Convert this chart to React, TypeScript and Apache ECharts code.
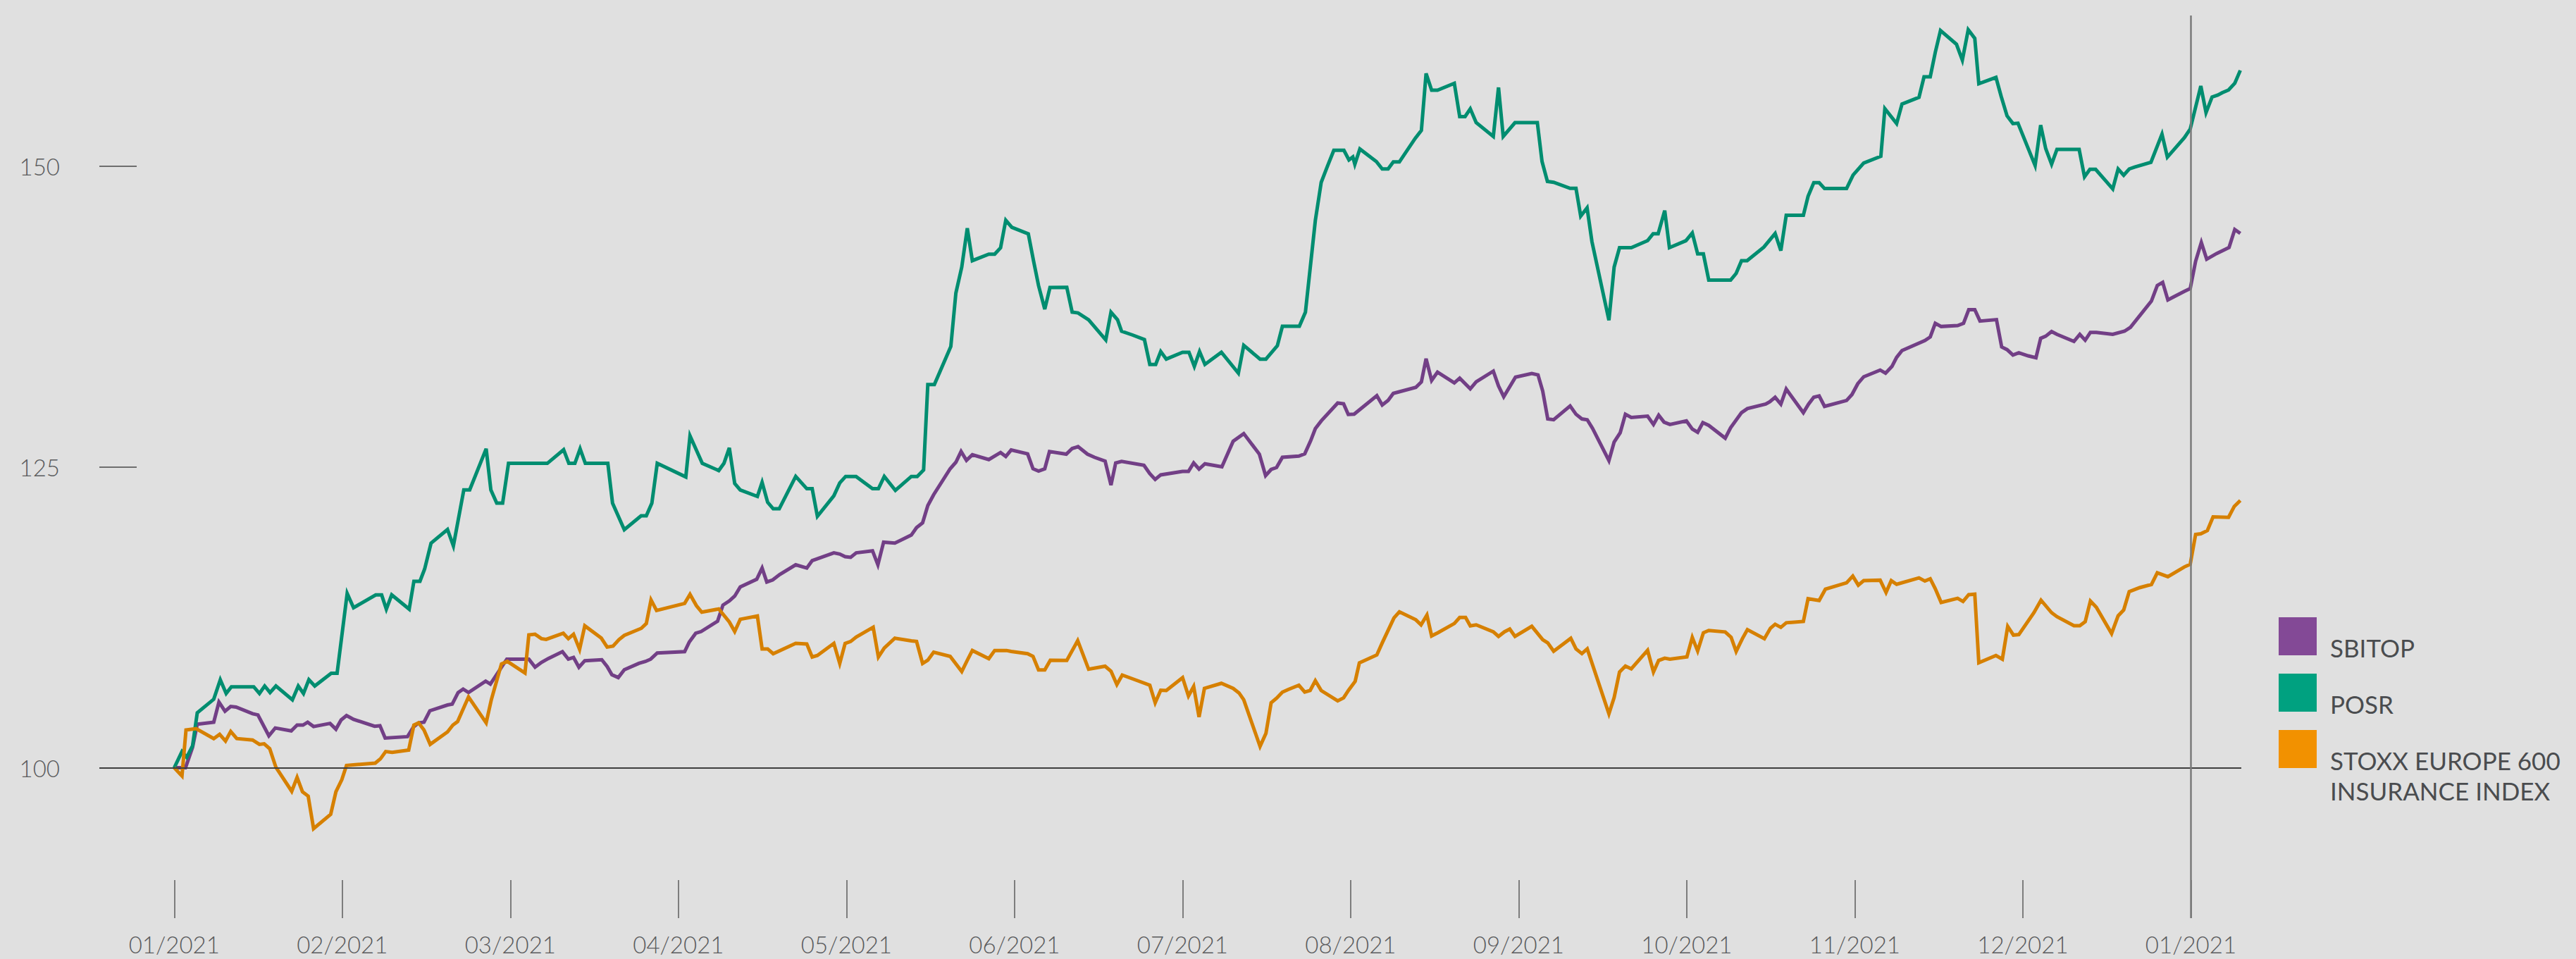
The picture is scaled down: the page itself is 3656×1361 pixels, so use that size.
import React, { useEffect, useRef } from "react";
import * as echarts from "echarts";

// x = position in months from 01/2021 (0) to 01/2022 (12); y = indexed value (start = 100)
const MONTH_LABELS = [
  "01/2021", "02/2021", "03/2021", "04/2021", "05/2021", "06/2021", "07/2021",
  "08/2021", "09/2021", "10/2021", "11/2021", "12/2021", "01/2021",
];
const MONTH_TICKS = [0, 1, 2, 3, 4, 5, 6, 7, 8, 9, 10, 11, 12];
const Y_LABELS = [100, 125, 150];
const Y_TICKS = [125, 150];
const BASE_LINE = 100;
const YEAR_END_LINE = 12;

const SERIES_NAMES = ["SBITOP", "POSR", "STOXX EUROPE 600\nINSURANCE INDEX"];
const LEGEND_COLORS = ["#834996", "#00a180", "#f29100"];
const LINE_COLORS = ["#723f86", "#008d70", "#d68000"];

const SBITOP_DATA: [number, number][] = [
  [0, 100], [0.067, 100.0], [0.109, 101.7], [0.137, 103.61], [0.235, 103.78], [0.266, 105.45], [0.302, 104.69], [0.336, 105.09], [0.368, 105.04], [0.466, 104.49], [0.498, 104.38], [0.563, 102.65], [0.601, 103.3], [0.696, 103.06], [0.731, 103.54], [0.766, 103.54], [0.794, 103.78], [0.829, 103.42], [0.927, 103.68], [0.962, 103.2], [0.993, 103.97], [1.025, 104.33], [1.067, 104.02], [1.192, 103.44], [1.224, 103.49], [1.255, 102.46], [1.388, 102.58], [1.423, 103.37], [1.454, 103.73], [1.486, 103.78], [1.521, 104.73], [1.626, 105.21], [1.654, 105.28], [1.689, 106.24], [1.719, 106.53],
  [1.751, 106.25], [1.853, 107.19], [1.881, 106.95], [1.979, 109.02], [2.11, 109.02], [2.147, 108.35], [2.185, 108.75], [2.227, 109.08], [2.31, 109.64], [2.345, 109.02], [2.376, 109.16], [2.408, 108.35], [2.443, 108.89], [2.544, 108.97], [2.576, 108.4], [2.604, 107.73], [2.642, 107.49], [2.678, 108.14], [2.765, 108.67], [2.804, 108.83], [2.835, 109.02], [2.874, 109.53], [3.037, 109.64], [3.065, 110.45], [3.103, 111.17], [3.135, 111.31], [3.233, 112.17], [3.265, 113.51], [3.303, 113.86], [3.335, 114.26], [3.368, 115.02], [3.466, 115.66],
  [3.498, 116.59], [3.526, 115.43], [3.561, 115.6], [3.603, 116.05], [3.698, 116.86], [3.764, 116.59], [3.796, 117.21], [3.925, 117.85], [3.96, 117.75], [3.992, 117.53], [4.025, 117.48], [4.058, 117.85], [4.155, 118.02], [4.187, 116.86], [4.221, 118.74], [4.288, 118.66], [4.386, 119.33], [4.417, 119.95], [4.453, 120.35], [4.484, 121.78], [4.519, 122.69], [4.617, 124.84], [4.651, 125.38], [4.682, 126.27], [4.714, 125.54], [4.749, 126.0], [4.847, 125.6], [4.917, 126.19], [4.948, 125.86], [4.98, 126.4], [5.078, 126.08], [5.11, 124.84], [5.143, 124.65], [5.18, 124.84], [5.208, 126.27],
  [5.308, 126.05], [5.343, 126.52], [5.378, 126.68], [5.434, 126.05], [5.476, 125.79], [5.539, 125.48], [5.574, 123.48], [5.602, 125.32], [5.637, 125.45], [5.77, 125.13], [5.805, 124.43], [5.837, 123.95], [5.87, 124.33], [6.0, 124.62], [6.035, 124.62], [6.066, 125.32], [6.098, 124.81], [6.133, 125.25], [6.234, 125.0], [6.301, 127.13], [6.364, 127.76], [6.457, 126.05], [6.494, 124.27], [6.527, 124.78], [6.559, 124.94], [6.594, 125.79], [6.692, 125.89], [6.727, 126.08], [6.762, 127.16], [6.79, 128.17], [6.825, 128.81], [6.923, 130.3], [6.958, 130.24], [6.986, 129.35],
  [7.021, 129.38], [7.048, 129.68], [7.156, 130.91], [7.188, 130.14], [7.223, 130.52], [7.254, 131.1], [7.388, 131.6], [7.421, 132.06], [7.449, 133.98], [7.482, 132.18], [7.517, 132.87], [7.617, 131.98], [7.649, 132.37], [7.712, 131.48], [7.747, 132.06], [7.849, 132.95], [7.88, 131.71], [7.911, 130.83], [7.981, 132.45], [8.078, 132.75], [8.115, 132.64], [8.143, 131.29], [8.173, 128.98], [8.208, 128.91], [8.306, 130.06], [8.341, 129.37], [8.376, 128.98], [8.408, 128.91], [8.439, 128.21], [8.537, 125.52], [8.568, 127.06], [8.604, 127.83], [8.635, 129.37], [8.67, 129.1], [8.767, 129.21], [8.802, 128.52], [8.833, 129.29], [8.865, 128.71], [8.9, 128.52],
  [8.998, 128.82], [9.033, 128.14], [9.065, 127.87], [9.096, 128.67], [9.131, 128.44], [9.229, 127.38], [9.261, 128.25], [9.326, 129.5], [9.361, 129.84], [9.47, 130.21], [9.494, 130.4], [9.526, 130.78], [9.56, 130.21], [9.592, 131.46], [9.694, 129.5], [9.725, 130.21], [9.756, 130.78], [9.788, 130.89], [9.82, 130.02], [9.951, 130.51], [9.983, 131.0], [10.018, 131.91], [10.053, 132.48], [10.151, 133.04], [10.183, 132.78], [10.221, 133.34], [10.249, 134.1], [10.281, 134.66], [10.417, 135.49], [10.449, 135.79], [10.479, 136.92], [10.514, 136.66], [10.612, 136.74], [10.647, 136.92], [10.678, 138.06], [10.714, 138.06], [10.745, 137.11], [10.843, 137.23], [10.874, 134.96], [10.906, 134.74], [10.941, 134.29],
  [10.976, 134.48], [11.032, 134.22], [11.078, 134.06], [11.106, 135.68], [11.136, 135.85], [11.171, 136.24], [11.203, 136.01], [11.304, 135.42], [11.339, 136.01], [11.371, 135.52], [11.402, 136.17], [11.437, 136.17], [11.535, 136.01], [11.605, 136.27], [11.64, 136.59], [11.765, 138.77], [11.8, 140.07], [11.832, 140.33], [11.863, 138.87], [11.894, 139.1], [11.961, 139.58], [11.996, 139.81], [12.028, 142.08], [12.062, 143.64], [12.094, 142.25], [12.154, 142.73], [12.227, 143.22], [12.261, 144.72], [12.294, 144.39],
];

const POSR_DATA: [number, number][] = [
  [0, 100], [0.046, 101.34], [0.074, 100.86], [0.109, 101.82], [0.137, 104.57], [0.235, 105.69], [0.274, 107.31], [0.309, 106.17], [0.34, 106.72], [0.473, 106.72], [0.507, 106.17], [0.538, 106.79], [0.57, 106.24], [0.605, 106.79], [0.703, 105.64], [0.738, 106.79], [0.769, 106.17], [0.801, 107.31], [0.836, 106.79], [0.934, 107.84], [0.969, 107.84], [1.029, 114.48], [1.067, 113.29], [1.199, 114.36], [1.234, 114.36], [1.262, 113.17], [1.294, 114.36], [1.398, 113.17], [1.426, 115.49], [1.462, 115.49], [1.49, 116.51], [1.528, 118.66], [1.626, 119.79], [1.661, 118.43], [1.723, 123.08],
  [1.758, 123.08], [1.856, 126.5], [1.884, 123.08], [1.919, 121.98], [1.954, 121.98], [1.989, 125.29], [2.22, 125.29], [2.317, 126.42], [2.348, 125.29], [2.384, 125.29], [2.415, 126.5], [2.446, 125.29], [2.58, 125.29], [2.608, 121.98], [2.678, 119.78], [2.778, 120.93], [2.809, 120.93], [2.842, 121.98], [2.874, 125.29], [3.044, 124.16], [3.069, 127.57], [3.142, 125.29], [3.24, 124.69], [3.271, 125.29], [3.303, 126.58], [3.335, 123.62], [3.368, 123.08], [3.47, 122.54],
  [3.498, 123.71], [3.531, 122.05], [3.564, 121.51], [3.6, 121.51], [3.698, 124.2], [3.764, 123.18], [3.796, 123.18], [3.827, 120.89], [3.925, 122.59], [3.96, 123.66], [3.995, 124.2], [4.057, 124.2], [4.155, 123.18], [4.19, 123.18], [4.225, 124.2], [4.291, 123.04], [4.386, 124.2], [4.421, 124.2], [4.459, 124.74], [4.484, 131.83], [4.523, 131.83], [4.621, 135.0], [4.651, 139.44], [4.686, 141.59], [4.719, 144.82], [4.749, 142.13], [4.847, 142.67], [4.882, 142.67], [4.917, 143.2], [4.948, 145.49], [4.984, 144.9], [5.082, 144.36], [5.113, 142.13], [5.143, 140.06], [5.18, 138.1], [5.211, 139.9],
  [5.311, 139.92], [5.343, 137.85], [5.378, 137.79], [5.441, 137.22], [5.543, 135.54], [5.574, 137.85], [5.613, 137.22], [5.637, 136.27], [5.703, 135.95], [5.773, 135.57], [5.805, 133.51], [5.84, 133.51], [5.87, 134.58], [5.903, 133.95], [6.0, 134.52], [6.038, 134.52], [6.07, 133.35], [6.101, 134.58], [6.133, 133.51], [6.231, 134.52], [6.332, 132.78], [6.364, 135.09], [6.461, 133.95], [6.496, 133.95], [6.564, 135.06], [6.594, 136.68], [6.695, 136.68], [6.731, 137.85], [6.79, 145.47], [6.825, 148.64], [6.86, 149.9], [6.9, 151.3], [6.96, 151.3], [6.99, 150.5],
  [7.013, 150.75], [7.025, 150.14], [7.055, 151.41], [7.153, 150.37], [7.188, 149.75], [7.223, 149.75], [7.254, 150.33], [7.29, 150.33], [7.384, 152.29], [7.421, 152.95], [7.449, 157.68], [7.482, 156.29], [7.517, 156.29], [7.617, 156.87], [7.649, 154.1], [7.681, 154.1], [7.712, 154.75], [7.747, 153.6], [7.849, 152.45], [7.88, 156.52], [7.908, 152.45], [7.978, 153.6], [8.111, 153.6], [8.139, 150.37], [8.171, 148.71], [8.208, 148.64], [8.306, 148.14], [8.341, 148.14], [8.369, 145.83], [8.407, 146.52], [8.436, 143.71], [8.537, 137.18], [8.568, 141.6], [8.6, 143.21], [8.67, 143.21], [8.767, 143.79], [8.8, 144.37], [8.83, 144.37], [8.869, 146.29], [8.897, 143.21],
  [8.995, 143.79], [9.033, 144.43], [9.065, 142.69], [9.099, 142.69], [9.131, 140.51], [9.261, 140.51], [9.294, 141.07], [9.326, 142.13], [9.359, 142.13], [9.459, 143.26], [9.526, 144.39], [9.56, 142.96], [9.592, 145.9], [9.694, 145.9], [9.722, 147.48], [9.756, 148.61], [9.788, 148.61], [9.82, 148.12], [9.951, 148.12], [9.99, 149.25], [10.053, 150.24], [10.155, 150.8], [10.179, 154.76], [10.249, 153.52], [10.281, 155.14], [10.382, 155.7], [10.412, 157.4], [10.449, 157.4], [10.479, 159.44], [10.51, 161.25], [10.605, 160.11], [10.64, 158.79], [10.675, 161.32], [10.714, 160.6], [10.738, 156.83], [10.84, 157.36], [10.871, 155.78], [10.906, 154.16], [10.941, 153.52],
  [10.971, 153.55], [11.073, 150.04], [11.106, 153.39], [11.136, 151.44], [11.171, 150.14], [11.203, 151.38], [11.335, 151.38], [11.367, 149.1], [11.399, 149.72], [11.433, 149.72], [11.535, 148.09], [11.567, 149.75], [11.6, 149.23], [11.633, 149.75], [11.665, 149.91], [11.762, 150.3], [11.828, 152.64], [11.86, 150.73], [11.961, 152.35], [11.996, 153.07], [12.059, 156.64], [12.09, 154.43], [12.126, 155.73], [12.16, 155.89], [12.187, 156.09], [12.224, 156.31], [12.261, 156.87], [12.294, 157.94],
];

const STOXX_DATA: [number, number][] = [
  [0, 100], [0.046, 99.31], [0.07, 103.13], [0.13, 103.25], [0.235, 102.42], [0.27, 102.77], [0.305, 102.22], [0.336, 103.01], [0.372, 102.42], [0.466, 102.3], [0.507, 101.94], [0.535, 101.99], [0.568, 101.58], [0.605, 100.03], [0.699, 98.04], [0.731, 99.19], [0.763, 98.0], [0.797, 97.64], [0.829, 94.94], [0.931, 96.13], [0.962, 98.0], [0.997, 99.0], [1.025, 100.19], [1.196, 100.38], [1.227, 100.74], [1.258, 101.34], [1.297, 101.27], [1.395, 101.46], [1.426, 103.54], [1.454, 103.73], [1.486, 103.13], [1.523, 101.94], [1.626, 102.97], [1.658, 103.54], [1.686, 103.83],
  [1.751, 105.88], [1.856, 103.73], [1.887, 105.66], [1.947, 108.62], [1.982, 108.83], [2.087, 107.87], [2.11, 111.04], [2.147, 111.09], [2.185, 110.72], [2.213, 110.66], [2.315, 111.17], [2.345, 110.72], [2.376, 111.09], [2.412, 109.83], [2.443, 111.79], [2.541, 110.77], [2.576, 110.02], [2.611, 110.1], [2.646, 110.64], [2.678, 110.99], [2.779, 111.58], [2.809, 111.98], [2.837, 113.94], [2.87, 113.06], [3.037, 113.65], [3.069, 114.4], [3.107, 113.46], [3.139, 112.92], [3.24, 113.19], [3.303, 112.11], [3.335, 111.31], [3.368, 112.33], [3.47, 112.6],
  [3.498, 109.87], [3.531, 109.87], [3.564, 109.47], [3.698, 110.33], [3.764, 110.28], [3.796, 109.2], [3.827, 109.33], [3.925, 110.33], [3.96, 108.66], [3.992, 110.33], [4.025, 110.49], [4.058, 110.86], [4.159, 111.67], [4.19, 109.2], [4.225, 109.95], [4.288, 110.76], [4.386, 110.54], [4.417, 110.49], [4.453, 108.66], [4.484, 108.93], [4.519, 109.6], [4.617, 109.25], [4.686, 107.99], [4.719, 108.93], [4.749, 109.74], [4.847, 109.06], [4.882, 109.74], [4.952, 109.74], [4.98, 109.66], [5.078, 109.47], [5.11, 109.25], [5.143, 108.12], [5.18, 108.12], [5.213, 108.93],
  [5.311, 108.91], [5.376, 110.56], [5.441, 108.18], [5.539, 108.43], [5.574, 108.02], [5.609, 106.91], [5.641, 107.7], [5.721, 107.29], [5.805, 106.85], [5.837, 105.39], [5.87, 106.44], [5.903, 106.41], [6.0, 107.48], [6.035, 105.96], [6.066, 106.75], [6.098, 104.21], [6.13, 106.59], [6.231, 107.01], [6.301, 106.59], [6.336, 106.21], [6.364, 105.64], [6.461, 101.77], [6.496, 102.85], [6.527, 105.39], [6.559, 105.77], [6.594, 106.28], [6.629, 106.5], [6.692, 106.85], [6.727, 106.28], [6.759, 106.41], [6.79, 107.23], [6.825, 106.41], [6.923, 105.55], [6.958, 105.8], [6.988, 106.44],
  [7.027, 107.18], [7.052, 108.71], [7.156, 109.37], [7.188, 110.37], [7.258, 112.45], [7.29, 112.95], [7.388, 112.29], [7.419, 111.87], [7.454, 112.68], [7.482, 110.95], [7.519, 111.21], [7.617, 111.98], [7.649, 112.48], [7.684, 112.48], [7.712, 111.79], [7.747, 111.87], [7.849, 111.29], [7.88, 110.91], [7.915, 111.29], [7.947, 111.52], [7.978, 110.91], [8.078, 111.75], [8.143, 110.64], [8.173, 110.37], [8.208, 109.68], [8.31, 110.75], [8.341, 109.87], [8.376, 109.48], [8.408, 109.87], [8.537, 104.48], [8.568, 105.83], [8.6, 107.95], [8.635, 108.45], [8.67, 108.21], [8.767, 109.75], [8.802, 107.95], [8.833, 108.91], [8.869, 109.1], [8.9, 109.02],
  [9.001, 109.21], [9.033, 110.83], [9.065, 109.7], [9.099, 111.21], [9.131, 111.4], [9.229, 111.28], [9.264, 110.83], [9.294, 109.66], [9.331, 110.72], [9.361, 111.47], [9.462, 110.72], [9.498, 111.59], [9.526, 111.92], [9.56, 111.66], [9.592, 112.04], [9.694, 112.15], [9.722, 114.04], [9.788, 113.89], [9.825, 114.83], [9.951, 115.36], [9.988, 115.92], [10.021, 115.17], [10.053, 115.54], [10.151, 115.58], [10.186, 114.56], [10.217, 115.54], [10.249, 115.24], [10.382, 115.77], [10.417, 115.51], [10.449, 115.7], [10.479, 114.87], [10.514, 113.73], [10.612, 114.07], [10.644, 113.81], [10.678, 114.38], [10.714, 114.42], [10.738, 108.72], [10.84, 109.32], [10.878, 109.02], [10.91, 111.74], [10.944, 111.02],
  [10.976, 111.06], [11.066, 112.88], [11.108, 113.92], [11.171, 112.88], [11.203, 112.55], [11.304, 111.8], [11.339, 111.8], [11.371, 112.13], [11.402, 113.85], [11.437, 113.33], [11.528, 111.15], [11.567, 112.62], [11.6, 113.1], [11.633, 114.63], [11.695, 114.96], [11.765, 115.22], [11.8, 116.19], [11.863, 115.87], [11.961, 116.68], [11.996, 116.91], [12.028, 119.38], [12.059, 119.44], [12.098, 119.7], [12.132, 120.84], [12.224, 120.8], [12.258, 121.71], [12.294, 122.2],
];

const SERIES_DATA = [SBITOP_DATA, POSR_DATA, STOXX_DATA];

const W = 3656;
const H = 1361;

export default function App() {
  const ref = useRef<HTMLDivElement | null>(null);

  useEffect(() => {
    if (!ref.current) return;
    const chart = echarts.init(ref.current, null, { renderer: "svg" });

    const axisFont = {
      fontFamily: "Lato, 'Noto Sans', sans-serif",
      fontWeight: 300 as any,
      fontSize: 33,
      color: "#5a5b5d",
    };

    const lineSeries = SERIES_DATA.map((d, i) => ({
      name: SERIES_NAMES[i],
      type: "line",
      data: d,
      showSymbol: false,
      symbol: "none",
      z: 3,
      lineStyle: { color: LINE_COLORS[i], width: 5, join: "miter" },
      itemStyle: { color: LINE_COLORS[i] },
      emphasis: { disabled: true },
    }));

    const legendGraphics: any[] = [];
    SERIES_NAMES.forEach((name, i) => {
      legendGraphics.push({
        type: "rect",
        shape: { x: 3234, y: 876 + i * 80, width: 54, height: 54 },
        style: { fill: LEGEND_COLORS[i] },
        silent: true,
      });
      const lines = name.split("\n").length;
      legendGraphics.push({
        type: "text",
        x: 3307,
        y: 919 + i * 80 + (lines - 1) * 21.5,
        style: {
          text: name,
          fill: "#4a4c4f",
          fontSize: 35,
          fontFamily: "Lato, 'Noto Sans', sans-serif",
          lineHeight: 43,
          verticalAlign: "middle",
          align: "left",
        },
        silent: true,
      });
    });

    chart.setOption({
      animation: false,
      backgroundColor: "#e0e0e0",
      grid: { left: 141, right: W - 3181, top: 22, bottom: H - 1303, containLabel: false },
      xAxis: {
        type: "value",
        min: -0.4457,
        max: 12.3,
        axisLine: { show: false, onZero: false },
        splitLine: { show: false },
        axisTick: {
          show: true,
          inside: true,
          length: 54,
          customValues: MONTH_TICKS,
          lineStyle: { color: "#5c5c5c", width: 1.5 },
        },
        axisLabel: {
          ...axisFont,
          customValues: MONTH_TICKS,
          margin: 20,
          formatter: (v: number) => MONTH_LABELS[Math.round(v)] ?? "",
        },
      },
      yAxis: {
        type: "value",
        min: 87.5,
        max: 162.5,
        axisLine: { show: false, onZero: false },
        splitLine: { show: false },
        axisTick: {
          show: true,
          inside: true,
          length: 53,
          customValues: Y_TICKS,
          lineStyle: { color: "#6e6e6e", width: 2 },
        },
        axisLabel: {
          ...axisFont,
          customValues: Y_LABELS,
          margin: 56,
          formatter: (v: number) => String(Math.round(v)),
        },
      },
      series: [
        {
          type: "line",
          data: [],
          z: 1,
          markLine: {
            silent: true,
            symbol: "none",
            label: { show: false },
            data: [
              { yAxis: BASE_LINE, lineStyle: { color: "#3f3f3f", width: 2, type: "solid" } },
              { xAxis: YEAR_END_LINE, lineStyle: { color: "#7a7a7a", width: 2.5, type: "solid" } },
            ],
          },
        },
        ...lineSeries,
      ],
      graphic: legendGraphics,
    });

    return () => chart.dispose();
  }, []);

  return (
    <div
      ref={ref}
      style={{ position: "fixed", left: 0, top: 0, width: W, height: H, background: "#e0e0e0" }}
    />
  );
}
